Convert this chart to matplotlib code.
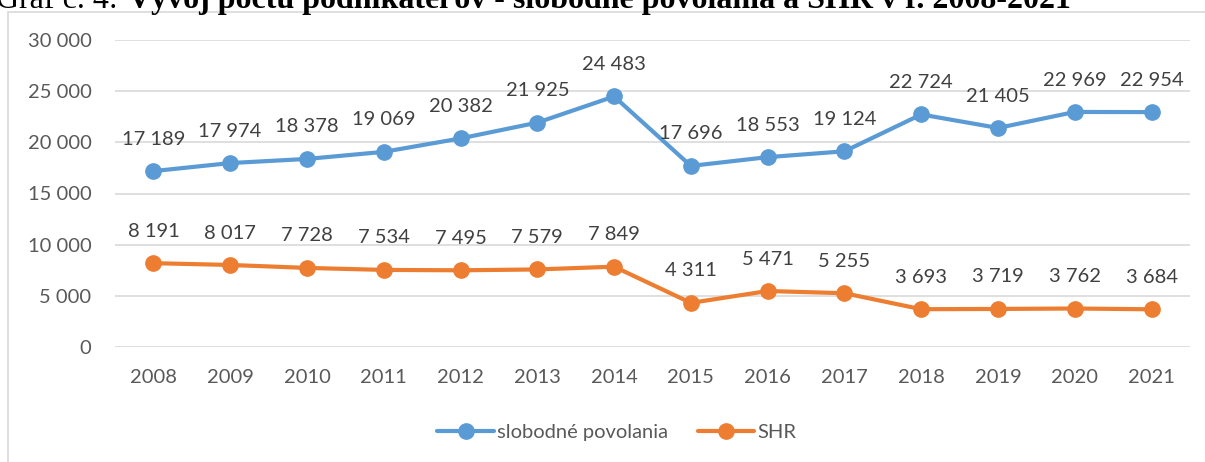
import matplotlib
matplotlib.use('Agg')
import matplotlib.pyplot as plt
from matplotlib.patches import Rectangle
import numpy as np

# data
years = ['2008', '2009', '2010', '2011', '2012', '2013', '2014',
         '2015', '2016', '2017', '2018', '2019', '2020', '2021']
slobodne = [17189, 17974, 18378, 19069, 20382, 21925, 24483,
            17696, 18553, 19124, 22724, 21405, 22969, 22954]
shr = [8191, 8017, 7728, 7534, 7495, 7579, 7849,
       4311, 5471, 5255, 3693, 3719, 3762, 3684]

plt.rcParams['font.family'] = ['Lato', 'DejaVu Sans']

fig = plt.figure(figsize=(12.05, 4.62), dpi=100)
W, H = 1205, 462

# chart frame (partly cut off like in the document)
fig.patches.append(Rectangle((8 / W, -0.1), 1.2, 1 - 12 / H + 0.1,
                             transform=fig.transFigure, fill=False,
                             edgecolor='#d9d9d9', linewidth=1.2))

# cut-off caption from the document
fig.text(118 / W, 1 - 8 / H, 'Graf č. 4:', fontsize=23, family='Liberation Serif',
         ha='right', va='baseline', color='black')
fig.text(128 / W, 1 - 8 / H, 'Vývoj počtu podnikateľov - slobodné povolania a SHR v r. 2008-2021',
         fontsize=23, family='Liberation Serif', fontweight='bold',
         ha='left', va='baseline', color='black')

ax = fig.add_axes([115 / W, 1 - 347 / H, (1190 - 115) / W, (347 - 40) / H])
x = np.arange(len(years))

blue = '#5B9BD5'
orange = '#ED7D31'
ax.plot(x, slobodne, color=blue, lw=3, marker='o', ms=11, label='slobodné povolania',
        solid_capstyle='round', zorder=3)
ax.plot(x, shr, color=orange, lw=3, marker='o', ms=11, label='SHR',
        solid_capstyle='round', zorder=3)


def fmt(v):
    return f'{v:,}'.replace(',', ' ')


for xi, v in zip(x, slobodne):
    ax.annotate(fmt(v), (xi, v), xytext=(0, 23), textcoords='offset points',
                ha='center', va='center', fontsize=14.5, color='#404040')
for xi, v in zip(x, shr):
    ax.annotate(fmt(v), (xi, v), xytext=(0, 23), textcoords='offset points',
                ha='center', va='center', fontsize=14.5, color='#404040')

ax.set_xlim(-0.5, len(years) - 0.5)
ax.set_ylim(0, 30000)
ax.set_yticks(np.arange(0, 30001, 5000))
ax.set_yticklabels([fmt(v) for v in range(0, 30001, 5000)])
ax.set_xticks(x)
ax.set_xticklabels(years)
ax.tick_params(axis='both', length=0, labelsize=14.5, colors='#595959')
ax.tick_params(axis='y', pad=17)
ax.tick_params(axis='x', pad=16)
ax.grid(axis='y', color='#d9d9d9', lw=1.2)
ax.set_axisbelow(True)
for s in ax.spines.values():
    s.set_visible(False)

ax.legend(loc='center', bbox_to_anchor=(617 / W, 1 - 432 / H), bbox_transform=fig.transFigure,
          ncol=2, frameon=False, fontsize=14.5, labelcolor='#595959',
          handlelength=2.8, columnspacing=1.5, handletextpad=0.15)

fig.savefig('out.png', dpi=100)
